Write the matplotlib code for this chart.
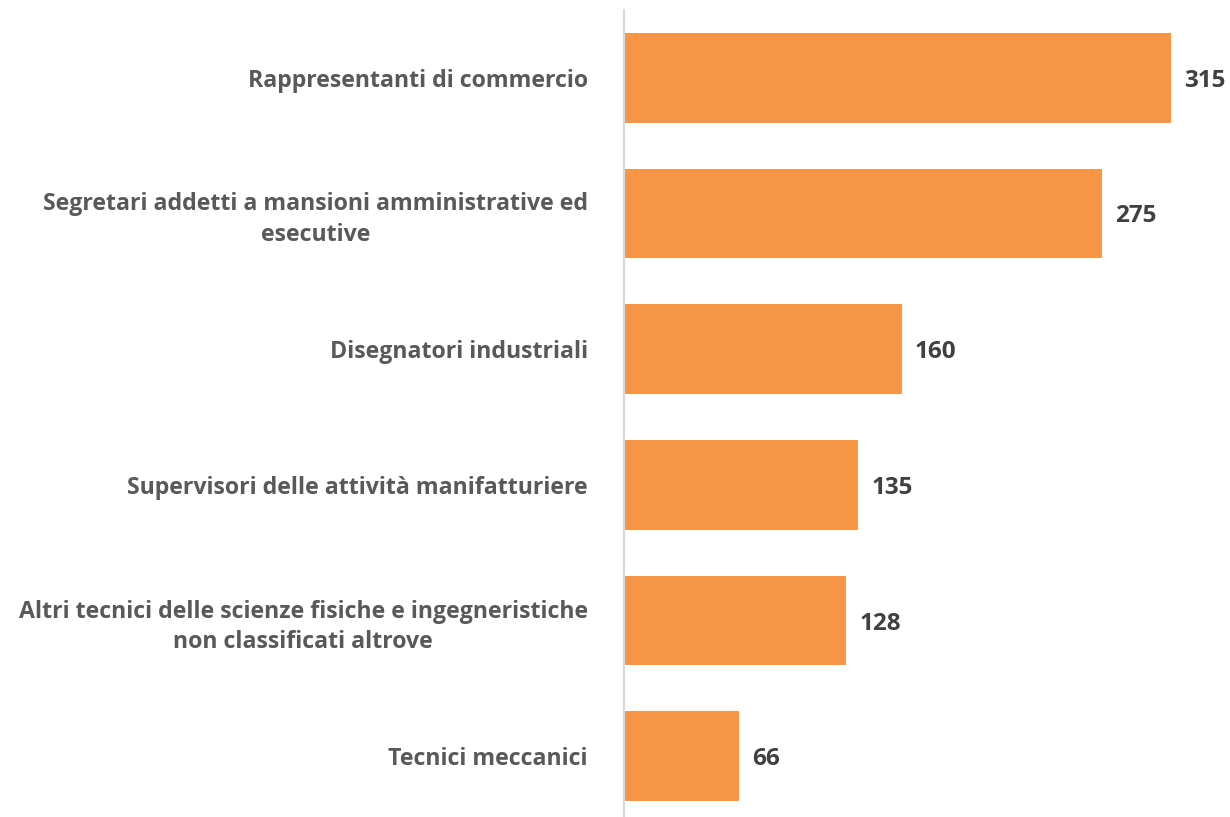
import numpy as np
import matplotlib
matplotlib.use('Agg')
import matplotlib.pyplot as plt

# data
categories = ['Rappresentanti di commercio',
              'Segretari addetti a mansioni amministrative ed\nesecutive',
              'Disegnatori industriali',
              'Supervisori delle attività manifatturiere',
              'Altri tecnici delle scienze fisiche e ingegneristiche\nnon classificati altrove',
              'Tecnici meccanici']
values = [315, 275, 160, 135, 128, 66]

BAR_COL = '#F79646'
LAB_COL = '#595959'
VAL_COL = '#404040'

plt.rcParams['font.family'] = ['Open Sans', 'DejaVu Sans']

fig = plt.figure(figsize=(12.3, 8.17), dpi=100)
ax = fig.add_axes([624/1230, (817-824)/817, (1230-624)/1230, 814/817])

y = np.arange(len(categories))
ax.barh(y, values, height=0.66, color=BAR_COL, zorder=2)
ax.set_ylim(len(categories)-0.5, -0.5)
ax.set_xlim(0, (1230-624)/1.737)

ax.set_yticks(y)
ax.set_yticklabels(categories, fontsize=16.7, fontweight='bold', color=LAB_COL)
for t in ax.get_yticklabels():
    t.set_multialignment('center')
    t.set_linespacing(1.38)
ax.tick_params(axis='y', length=0, pad=26)
ax.set_xticks([])

for s in ['top', 'right', 'bottom']:
    ax.spines[s].set_visible(False)
ax.spines['left'].set_color('#D9D9D9')
ax.spines['left'].set_linewidth(1.5)

for i, v in enumerate(values):
    ax.text(v + 7.5, i, str(v), va='center_baseline', ha='left', fontsize=17.5,
            fontweight='bold', color=VAL_COL)

fig.savefig('out.png', dpi=100)
